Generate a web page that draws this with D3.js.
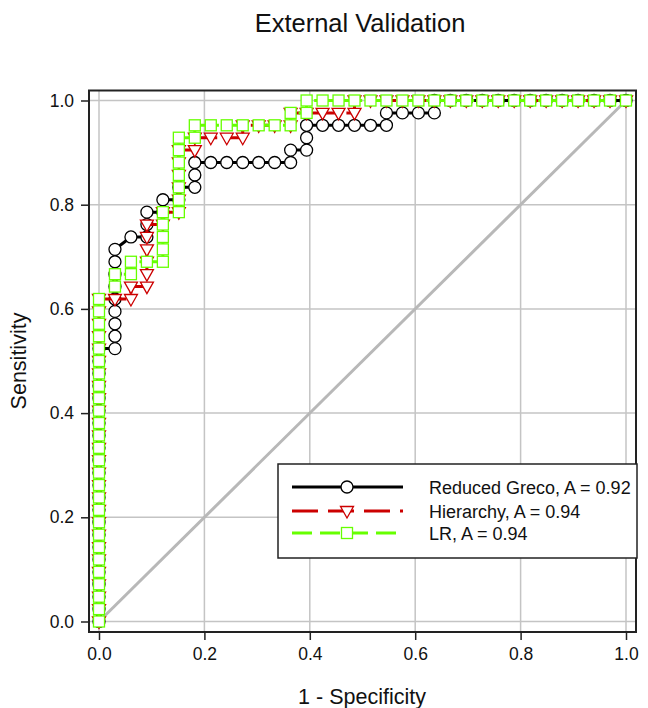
<!DOCTYPE html>
<html>
<head>
<meta charset="utf-8">
<script src="https://cdn.jsdelivr.net/npm/d3@7"></script>
<style>
  body { margin: 0; background: #fff; }
  text { font-family: "Liberation Sans", Arial, sans-serif; }
</style>
</head>
<body>
<div id="chart"></div>
<script>
// ROC points as (false positive count, true positive count); 33 negatives, 42 positives
const nNeg = 33, nPos = 42;

const grecoFP = [0,0,0,0,0,0,0,0,0,0,0,0,0,0,0,0,0,0,0,0,0,0,0,
  1,1,1,1,1,1,1,1,1, 2,3,3,3,4,4,5,5,6,6,6,7,8,9,10,11,12,12,13,13,13,
  14,15,16,17,18,18,19,20,21,21,22,23,24,25,26,27,28,29,30,31,32,33];
const grecoTP = [0,1,2,3,4,5,6,7,8,9,10,11,12,13,14,15,16,17,18,19,20,21,22,
  22,23,24,25,26,27,28,29,30, 31,31,32,33,33,34,34,35,35,36,37,37,37,37,37,37,37,38,38,39,40,
  40,40,40,40,40,41,41,41,41,42,42,42,42,42,42,42,42,42,42,42,42,42];

const hierFP = [0,0,0,0,0,0,0,0,0,0,0,0,0,0,0,0,0,0,0,0,0,0,0,0,0,0,0,
  1,2,2,3,3,3,3,3,3,4,4,5,5,5,5,5,5,6,6,7,8,9,9,10,11,12,12,13,14,15,16,16,
  17,18,19,20,21,22,23,24,25,26,27,28,29,30,31,32,33];
const hierTP = [0,1,2,3,4,5,6,7,8,9,10,11,12,13,14,15,16,17,18,19,20,21,22,23,24,25,26,
  26,26,27,27,28,29,30,31,32,32,33,33,34,35,36,37,38,38,39,39,39,39,40,40,40,40,41,41,41,41,41,42,
  42,42,42,42,42,42,42,42,42,42,42,42,42,42,42,42,42];

const lrFP = [0,0,0,0,0,0,0,0,0,0,0,0,0,0,0,0,0,0,0,0,0,0,0,0,0,0,0,
  1,1,2,2,3,4,4,4,4,4,5,5,5,5,5,5,5,6,6,7,8,9,10,11,12,12,13,13,
  14,15,16,17,18,19,20,21,22,23,24,25,26,27,28,29,30,31,32,33];
const lrTP = [0,1,2,3,4,5,6,7,8,9,10,11,12,13,14,15,16,17,18,19,20,21,22,23,24,25,26,
  27,28,28,29,29,29,30,31,32,33,33,34,35,36,37,38,39,39,40,40,40,40,40,40,40,41,41,42,
  42,42,42,42,42,42,42,42,42,42,42,42,42,42,42,42,42,42,42,42];

const seriesNames = ["Reduced Greco, A = 0.92", "Hierarchy, A = 0.94", "LR, A = 0.94"];
const xTicks = [0, 0.2, 0.4, 0.6, 0.8, 1.0];
const yTicks = [0, 0.2, 0.4, 0.6, 0.8, 1.0];

const W = 648, H = 708;
const svg = d3.select("#chart").append("svg").attr("width", W).attr("height", H);

const x = d3.scaleLinear().domain([0, 1]).range([99, 626]);
const y = d3.scaleLinear().domain([0, 1]).range([621.5, 100.5]);
const frame = {l: 89, r: 636, t: 90.5, b: 632};

// grid
svg.append("g").selectAll("line").data(xTicks).enter().append("line")
  .attr("x1", d => x(d)).attr("x2", d => x(d))
  .attr("y1", frame.t).attr("y2", frame.b)
  .attr("stroke", "#c4c4c4").attr("stroke-width", 1.5);
svg.append("g").selectAll("line").data(yTicks).enter().append("line")
  .attr("y1", d => y(d)).attr("y2", d => y(d))
  .attr("x1", frame.l).attr("x2", frame.r)
  .attr("stroke", "#c4c4c4").attr("stroke-width", 1.5);

// chance diagonal
svg.append("line")
  .attr("x1", x(0)).attr("y1", y(0)).attr("x2", x(1)).attr("y2", y(1))
  .attr("stroke", "#b8b8b8").attr("stroke-width", 3);

const series = [
  {fp: grecoFP, tp: grecoTP, color: "#000000", dash: null, shape: "circle"},
  {fp: hierFP, tp: hierTP, color: "#cc0000", dash: "26,10", shape: "tri"},
  {fp: lrFP, tp: lrTP, color: "#66ff00", dash: "20,8", shape: "square"}
];

const line = d3.line().x(d => x(d[0])).y(d => y(d[1]));

function drawMarker(g, shape, color, cx, cy) {
  if (shape === "circle") {
    g.append("circle").attr("cx", cx).attr("cy", cy).attr("r", 6)
      .attr("fill", "#fff").attr("stroke", color).attr("stroke-width", 1.3);
  } else if (shape === "tri") {
    g.append("path").attr("d", `M${cx-6.5},${cy-4.5}L${cx+6.5},${cy-4.5}L${cx},${cy+7}Z`)
      .attr("fill", "#fff").attr("stroke", color).attr("stroke-width", 1.3);
  } else {
    g.append("rect").attr("x", cx-5.5).attr("y", cy-5.5).attr("width", 11).attr("height", 11)
      .attr("fill", "#fff").attr("stroke", color).attr("stroke-width", 1.3);
  }
}

series.forEach(s => {
  const pts = s.fp.map((f, i) => [f / nNeg, s.tp[i] / nPos]);
  const g = svg.append("g");
  g.append("path").datum(pts).attr("d", line)
    .attr("fill", "none").attr("stroke", s.color).attr("stroke-width", 3)
    .attr("stroke-dasharray", s.dash);
  pts.forEach(p => drawMarker(g, s.shape, s.color, x(p[0]), y(p[1])));
});

// frame
svg.append("rect").attr("x", frame.l).attr("y", frame.t)
  .attr("width", frame.r - frame.l).attr("height", frame.b - frame.t)
  .attr("fill", "none").attr("stroke", "#222").attr("stroke-width", 2);

// axes
const xAxis = svg.append("g").attr("transform", `translate(0,${frame.b})`)
  .call(d3.axisBottom(x).tickValues(xTicks).tickFormat(d3.format(".1f")).tickSize(8).tickPadding(8));
const yAxis = svg.append("g").attr("transform", `translate(${frame.l},0)`)
  .call(d3.axisLeft(y).tickValues(yTicks).tickFormat(d3.format(".1f")).tickSize(8).tickPadding(7));
[xAxis, yAxis].forEach(a => {
  a.select(".domain").remove();
  a.selectAll(".tick line").attr("stroke", "#222").attr("stroke-width", 1.5);
  a.selectAll(".tick text").attr("font-size", 17.5).attr("fill", "#111")
    .attr("font-family", "Liberation Sans, Arial, sans-serif");
});

// titles
svg.append("text").attr("x", 360).attr("y", 32).attr("text-anchor", "middle")
  .attr("font-size", 25.5).attr("fill", "#111").text("External Validation");
svg.append("text").attr("x", 362).attr("y", 704).attr("text-anchor", "middle")
  .attr("font-size", 21.5).attr("fill", "#111").text("1 - Specificity");
svg.append("text").attr("transform", "translate(26,361) rotate(-90)").attr("text-anchor", "middle")
  .attr("font-size", 21.5).attr("fill", "#111").text("Sensitivity");

// legend
const lg = svg.append("g");
lg.append("rect").attr("x", 278).attr("y", 464).attr("width", 359).attr("height", 94)
  .attr("fill", "#fff").attr("stroke", "#222").attr("stroke-width", 1.5);
const legY = [487, 511, 533];
series.forEach((s, i) => {
  lg.append("line").attr("x1", 292).attr("x2", 403).attr("y1", legY[i]).attr("y2", legY[i])
    .attr("stroke", s.color).attr("stroke-width", 3).attr("stroke-dasharray", s.dash);
  drawMarker(lg, s.shape, s.color, 347, legY[i]);
  lg.append("text").attr("x", 429).attr("y", legY[i] + 6.5).attr("font-size", 18)
    .attr("fill", "#111").text(seriesNames[i]);
});
</script>
</body>
</html>
